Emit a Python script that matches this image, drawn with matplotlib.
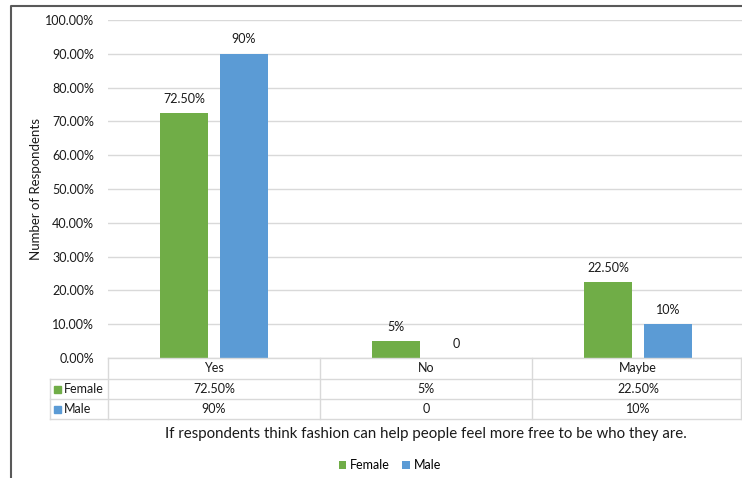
import matplotlib.pyplot as plt
from matplotlib.lines import Line2D
import numpy as np

categories = ['Yes', 'No', 'Maybe']
female = [72.5, 5.0, 22.5]
male = [90.0, 0.0, 10.0]
female_labels = ['72.50%', '5%', '22.50%']
male_labels = ['90%', '0', '10%']
series_names = ['Female', 'Male']

GREEN = '#70AD47'
BLUE = '#5B9BD5'
GRID = '#D9D9D9'
TEXT = '#1A1A1A'

plt.rcParams['font.family'] = ['Lato', 'DejaVu Sans']

W, H = 742, 478
fig = plt.figure(figsize=(W / 100, H / 100), dpi=100)


def fx(x):
    return x / W


def fy(y):
    return 1 - y / H


# plot area in pixel terms
left, right, top, base = 108, 744, 20, 358
ax = fig.add_axes([fx(left), fy(base), fx(right - left), fy(top) - fy(base)])

x = np.arange(len(categories))
w = 0.226
off = 0.141
b1 = ax.bar(x - off, female, w, color=GREEN, label=series_names[0], zorder=3)
b2 = ax.bar(x + off, male, w, color=BLUE, label=series_names[1], zorder=3)

for bars, labs in ((b1, female_labels), (b2, male_labels)):
    for r, t in zip(bars, labs):
        ax.annotate(t, (r.get_x() + r.get_width() / 2, r.get_height()),
                    xytext=(0, 6), textcoords='offset points',
                    ha='center', va='bottom', fontsize=9, color=TEXT)

ax.set_xlim(-0.5, len(categories) - 0.5)
ax.set_ylim(0, 100)
ax.set_yticks(np.arange(0, 101, 10))
ax.set_yticklabels([f'{v:.2f}%' for v in np.arange(0, 101, 10)], fontsize=9, color=TEXT)
ax.tick_params(axis='y', length=0, pad=10)
ax.set_xticks([])
ax.yaxis.grid(True, color=GRID, linewidth=1, zorder=0)
for s in ax.spines.values():
    s.set_visible(False)
ax.set_ylabel('Number of Respondents', fontsize=9.5, color=TEXT)
ax.yaxis.set_label_coords(-0.104, 0.5)

# data table under the plot
def hline(y, x0, x1):
    fig.add_artist(Line2D([fx(x0), fx(x1)], [fy(y), fy(y)], color=GRID, lw=1))


def vline(x0, y0, y1):
    fig.add_artist(Line2D([fx(x0), fx(x0)], [fy(y0), fy(y1)], color=GRID, lw=1))


rows = [358, 379, 399, 419]
hline(rows[0], left, W)
for y in rows[1:]:
    hline(y, 50, W)
vline(50, rows[1], rows[3])
col_w = (right - left) / len(categories)
for i in range(len(categories)):
    vline(left + i * col_w, rows[0], rows[3])
vline(W - 1, rows[0], rows[3])

for i, cat in enumerate(categories):
    cx = left + (i + 0.5) * col_w
    fig.text(fx(cx), fy((rows[0] + rows[1]) / 2), cat, ha='center', va='center',
             fontsize=9, color=TEXT)
    fig.text(fx(cx), fy((rows[1] + rows[2]) / 2), female_labels[i], ha='center',
             va='center', fontsize=9, color=TEXT)
    fig.text(fx(cx), fy((rows[2] + rows[3]) / 2), male_labels[i], ha='center',
             va='center', fontsize=9, color=TEXT)

for j, (name, col) in enumerate(zip(series_names, [GREEN, BLUE])):
    yc = (rows[1 + j] + rows[2 + j]) / 2
    fig.add_artist(plt.Rectangle((fx(54), fy(yc + 3.5)), fx(7), fy(0) - fy(7),
                                 transform=fig.transFigure, color=col))
    fig.text(fx(64), fy(yc), name, ha='left', va='center', fontsize=9, color=TEXT)

fig.text(fx(426), fy(434), 'If respondents think fashion can help people feel more free to be who they are.',
         ha='center', va='center', fontsize=10.8, color=TEXT)

fig.legend(handles=[b1, b2], labels=series_names, loc='center',
           bbox_to_anchor=(fx(390), fy(465)), ncol=2, frameon=False, fontsize=9,
           handlelength=0.6, handleheight=0.6, handletextpad=0.3, columnspacing=1.0)

# outer chart border
fig.add_artist(Line2D([fx(11), fx(11), fx(W)], [fy(H), fy(6), fy(6)],
                      color='#595959', lw=1.5))

fig.savefig('out.png', dpi=100)
